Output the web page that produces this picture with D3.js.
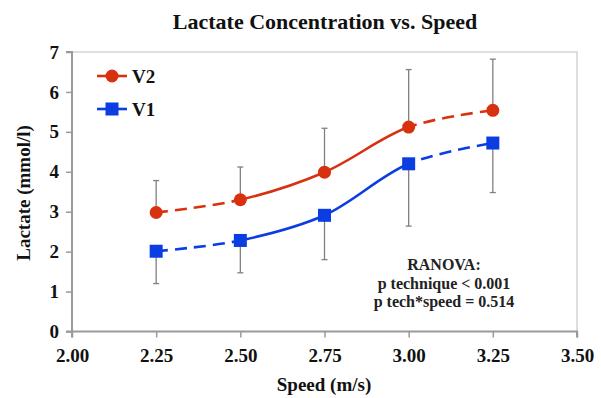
<!DOCTYPE html>
<html><head><meta charset="utf-8">
<script src="https://cdn.jsdelivr.net/npm/d3@7"></script>
<style>body{margin:0;background:#fff}svg{display:block}svg text{font-family:'Liberation Serif','Times New Roman',serif;font-weight:bold}</style>
</head><body><svg id="c" width="601" height="398"></svg>
<script>
const speeds = [2.25, 2.50, 2.75, 3.00, 3.25];
const v2 = [2.98, 3.30, 3.99, 5.12, 5.54];
const v2Err = [0.80, 0.82, 1.10, 1.44, 1.28];   // upward
const v1 = [2.01, 2.28, 2.91, 4.20, 4.72];
const v1Err = [0.81, 0.81, 1.11, 1.56, 1.24];   // downward
const xTicks = [2.00, 2.25, 2.50, 2.75, 3.00, 3.25, 3.50];
const yTicks = [0, 1, 2, 3, 4, 5, 6, 7];
const annotation = ["RANOVA:", "p technique < 0.001", "p tech*speed = 0.514"];

const svg = d3.select("#c");
const L = 72, R = 577, T = 52, B = 331.5;
const x = d3.scaleLinear().domain([2.0, 3.5]).range([L, R]);
const y = d3.scaleLinear().domain([0, 7]).range([B, T]);
const serif = "'Liberation Serif','Times New Roman',serif";
const red = "#d8310f", blue = "#0a3de2";

svg.append("path").attr("d", `M${L},${T}H${R}V${B}`).attr("fill","none").attr("stroke","#d4d4d4").attr("stroke-width",1.5);

const yAxis = svg.append("g").attr("transform", `translate(${L},0)`)
  .call(d3.axisLeft(y).tickValues(yTicks).tickSize(6).tickFormat(d3.format("d")));
const xAxis = svg.append("g").attr("transform", `translate(0,${B})`)
  .call(d3.axisBottom(x).tickValues(xTicks).tickSize(6).tickFormat(d3.format(".2f")));
[yAxis, xAxis].forEach(g => {
  g.attr("font-family", serif);
  g.select(".domain").attr("stroke","#9a9a9a").attr("stroke-width",2);
  g.selectAll(".tick line").attr("stroke","#9a9a9a").attr("stroke-width",1.5);
  g.selectAll("text").attr("font-family", serif).attr("font-weight","bold").attr("font-size",19).attr("fill","#111");
});
xAxis.select(".domain").attr("d", `M${L},6V0H${R}V6`);
yAxis.select(".domain").attr("d", `M-6,${T}H0V${B}H-6`);
yAxis.selectAll("text").attr("x", -13);
xAxis.selectAll("text").attr("y", 17);

function errBars(vals, errs, dir) {
  const g = svg.append("g").attr("stroke","#808080").attr("stroke-width",1.3);
  speeds.forEach((s,i) => {
    const yEnd = y(vals[i] + dir*errs[i]);
    g.append("line").attr("x1",x(s)).attr("x2",x(s)).attr("y1",y(vals[i])).attr("y2",yEnd);
    g.append("line").attr("x1",x(s)-3).attr("x2",x(s)+3).attr("y1",yEnd).attr("y2",yEnd);
  });
}
errBars(v2, v2Err, 1);
errBars(v1, v1Err, -1);

const defs = svg.append("defs");
defs.append("clipPath").attr("id","mid").append("rect")
  .attr("x", x(2.5)).attr("y", 0).attr("width", x(3.0)-x(2.5)).attr("height", 398);
const outer = defs.append("clipPath").attr("id","outer");
outer.append("rect").attr("x",0).attr("y",0).attr("width",x(2.5)).attr("height",398);
outer.append("rect").attr("x",x(3.0)).attr("y",0).attr("width",601-x(3.0)).attr("height",398);

const line = d3.line().x((d,i)=>x(speeds[i])).y(d=>y(d)).curve(d3.curveCatmullRom.alpha(0.5));
function series(vals, color) {
  svg.append("path").attr("d", line(vals)).attr("fill","none").attr("stroke",color)
    .attr("stroke-width",2.6).attr("clip-path","url(#mid)");
  svg.append("path").attr("d", line(vals)).attr("fill","none").attr("stroke",color)
    .attr("stroke-width",2.6).attr("stroke-dasharray","12,7").attr("clip-path","url(#outer)");
}
series(v2, red);
series(v1, blue);

svg.append("g").selectAll("circle").data(v2).join("circle")
  .attr("cx",(d,i)=>x(speeds[i])).attr("cy",d=>y(d)).attr("r",6.5).attr("fill",red);
svg.append("g").selectAll("rect").data(v1).join("rect")
  .attr("x",(d,i)=>x(speeds[i])-6.5).attr("y",d=>y(d)-6.5).attr("width",13).attr("height",13).attr("fill",blue);

const leg = [{name:"V2", color:red, shape:"circle", yy:76}, {name:"V1", color:blue, shape:"rect", yy:109}];
leg.forEach(l => {
  svg.append("line").attr("x1",97).attr("x2",127).attr("y1",l.yy).attr("y2",l.yy).attr("stroke",l.color).attr("stroke-width",2.6);
  if (l.shape==="circle") svg.append("circle").attr("cx",112).attr("cy",l.yy).attr("r",6.5).attr("fill",l.color);
  else svg.append("rect").attr("x",105.5).attr("y",l.yy-6.5).attr("width",13).attr("height",13).attr("fill",l.color);
  svg.append("text").attr("x",132).attr("y",l.yy+6.5).text(l.name)
    .attr("font-family",serif).attr("font-weight","bold").attr("font-size",19).attr("fill","#111");
});

svg.append("text").attr("x",325).attr("y",29).attr("text-anchor","middle").text("Lactate Concentration vs. Speed")
  .attr("font-family",serif).attr("font-weight","bold").attr("font-size",22).attr("fill","#111");
svg.append("text").attr("x",324).attr("y",391).attr("text-anchor","middle").text("Speed (m/s)")
  .attr("font-family",serif).attr("font-weight","bold").attr("font-size",19).attr("fill","#111");
svg.append("text").attr("transform","translate(30,193) rotate(-90)").attr("text-anchor","middle").text("Lactate (mmol/l)")
  .attr("font-family",serif).attr("font-weight","bold").attr("font-size",19).attr("fill","#111");

annotation.forEach((t,i) => {
  svg.append("text").attr("x",444).attr("y",270+i*18.5).attr("text-anchor","middle").text(t)
    .attr("font-family",serif).attr("font-weight","bold").attr("font-size",16).attr("fill","#222");
});
</script></body></html>
